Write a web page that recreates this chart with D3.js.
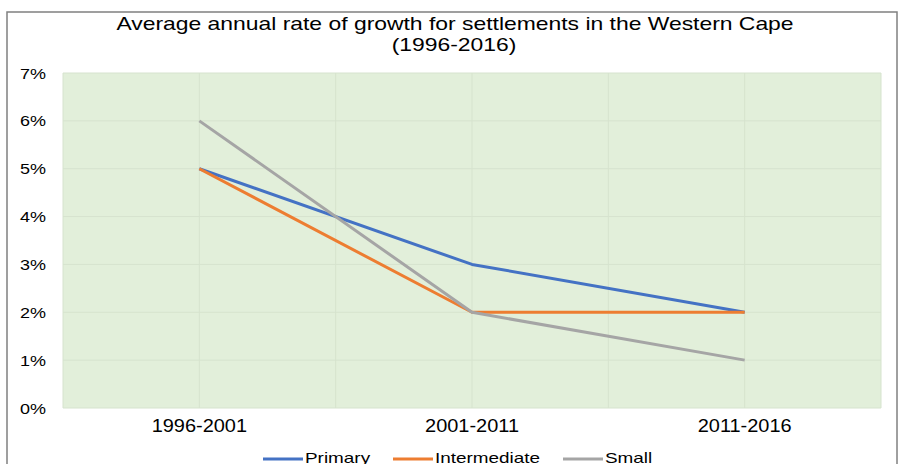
<!DOCTYPE html>
<html><head><meta charset="utf-8">
<script src="https://cdn.jsdelivr.net/npm/d3@7"></script>
<style>body{margin:0;background:#fff}svg{display:block}text{font-family:"Liberation Sans",Arial,sans-serif;fill:#000}</style>
</head><body>
<script>
const categories = ["1996-2001", "2001-2011", "2011-2016"];
const seriesNames = ["Primary", "Intermediate", "Small"];
const primary = [0.05, 0.03, 0.02];
const intermediate = [0.05, 0.02, 0.02];
const small = [0.06, 0.02, 0.01];
const yTicks = [0, 0.01, 0.02, 0.03, 0.04, 0.05, 0.06, 0.07];
const colors = ["#4472C4", "#ED7D31", "#A5A5A5"];
const series = [primary, intermediate, small];

const W = 903, H = 464;
const svg = d3.select("body").append("svg").attr("width", W).attr("height", H);
svg.append("rect").attr("x", 7).attr("y", 12).attr("width", 890).attr("height", 470)
  .attr("fill", "#fff").attr("stroke", "#808080").attr("stroke-width", 1.5);

// widen text horizontally (reference glyphs are stretched)
function stretch(sel, k) {
  sel.each(function () {
    const w = this.getComputedTextLength();
    d3.select(this).attr("textLength", w * k).attr("lengthAdjust", "spacingAndGlyphs");
  });
}

const L = 63, R = 881, T = 73, B = 408;
const x = d3.scaleBand().domain(categories).range([L, R]);
const y = d3.scaleLinear().domain([0, 0.07]).range([B, T]);

svg.append("rect").attr("x", L).attr("y", T).attr("width", R - L).attr("height", B - T).attr("fill", "#E2EFDA");
svg.append("g").selectAll("line").data(yTicks).join("line")
  .attr("x1", L).attr("x2", R).attr("y1", d => y(d)).attr("y2", d => y(d))
  .attr("stroke", "#D6E3CE").attr("stroke-width", 1);
const vlines = [];
categories.forEach(c => { vlines.push(x(c)); vlines.push(x(c) + x.bandwidth() / 2); });
vlines.push(R);
svg.append("g").selectAll("line").data(vlines).join("line")
  .attr("x1", d => d).attr("x2", d => d).attr("y1", T).attr("y2", B)
  .attr("stroke", "#D6E3CE").attr("stroke-width", 1);

// y axis labels
const yAxis = d3.axisLeft(y).tickValues(yTicks).tickFormat(d3.format(".0%")).tickSize(0).tickPadding(0);
const ga = svg.append("g").attr("transform", `translate(46,0)`).call(yAxis);
ga.select(".domain").remove();
ga.selectAll("text").attr("font-size", 14.5).attr("font-family", "Liberation Sans, Arial, sans-serif").attr("fill", "#000").attr("dy", "0.35em");
stretch(ga.selectAll("text"), 1.24);

// x axis labels
const xAxis = d3.axisBottom(x).tickSize(0).tickPadding(0);
const gx = svg.append("g").attr("transform", `translate(0,${B + 12})`).call(xAxis);
gx.select(".domain").remove();
gx.selectAll("text").attr("font-size", 17.5).attr("font-family", "Liberation Sans, Arial, sans-serif").attr("fill", "#000");
stretch(gx.selectAll("text"), 1.14);

// lines
const line = d3.line().x((d, i) => x(categories[i]) + x.bandwidth() / 2).y(d => y(d));
series.forEach((s, i) => {
  svg.append("path").datum(s).attr("d", line).attr("fill", "none")
    .attr("stroke", colors[i]).attr("stroke-width", 3).attr("stroke-linejoin", "round");
});

// title
const t1 = svg.append("text").attr("x", 455).attr("y", 30).attr("text-anchor", "middle").attr("font-size", 18.5)
  .text("Average annual rate of growth for settlements in the Western Cape");
const t2 = svg.append("text").attr("x", 454).attr("y", 51).attr("text-anchor", "middle").attr("font-size", 18.5)
  .text("(1996-2016)");
stretch(t1, 1.237);
stretch(t2, 1.237);

// legend
const legX = [263, 393, 563];
const lg = svg.append("g").selectAll("g").data(seriesNames).join("g")
  .attr("transform", (d, i) => `translate(${legX[i]},459)`);
lg.append("line").attr("x1", 0).attr("x2", 40).attr("y1", 0).attr("y2", 0)
  .attr("stroke", (d, i) => colors[i]).attr("stroke-width", 3);
const lt = lg.append("text").attr("x", 42).attr("y", 3.5).attr("font-size", 15).text(d => d);
stretch(lt, 1.26);
</script>
</body></html>
